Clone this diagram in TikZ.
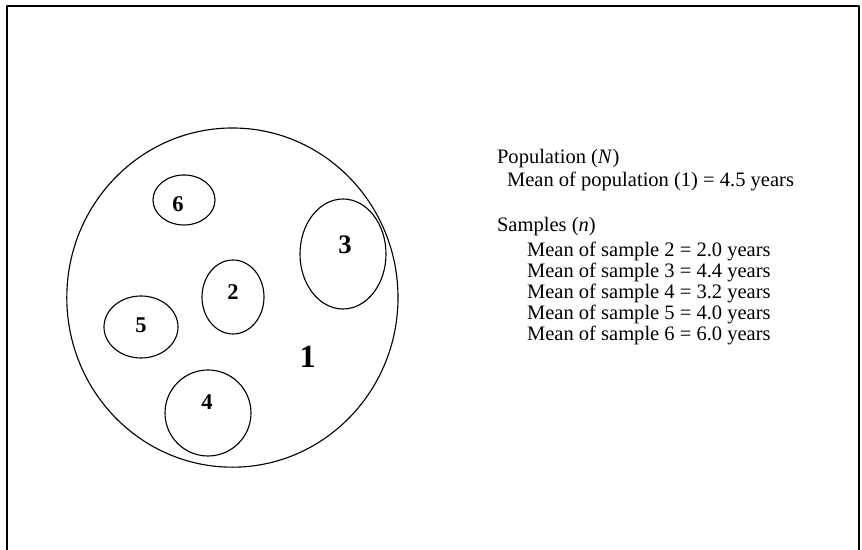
\documentclass[tikz,border=0pt]{standalone}
\usepackage{fontspec}
\setmainfont{Liberation Serif}
\usetikzlibrary{shapes.geometric}
\begin{document}
\begin{tikzpicture}[line cap=round,line join=round,
  oval/.style={draw,ellipse,line width=0.8pt,inner sep=0pt},
  num/.style={inner sep=0pt,font=\fontsize{16}{18}\selectfont\bfseries},
  txt/.style={anchor=base west,inner sep=0pt,font=\fontsize{14.6}{17}\selectfont}]
  \useasboundingbox (0,0) rectangle (21.55,13.75);
  \draw[line width=1pt] (0.175,0) -- (0.175,13.6) -- (21.475,13.6) -- (21.475,0);
  % population and samples
  \node[oval,minimum width=8.28cm,minimum height=8.48cm] (pop) at (5.81,6.31) {};
  \node[oval,minimum width=1.55cm,minimum height=1.25cm] (s6) at (4.60,8.75) {};
  \node[oval,minimum width=2.15cm,minimum height=2.75cm] (s3) at (8.575,7.40) {};
  \node[oval,minimum width=1.55cm,minimum height=1.85cm] (s2) at (5.825,6.325) {};
  \node[oval,minimum width=1.85cm,minimum height=1.55cm] (s5) at (3.525,5.575) {};
  \node[oval,minimum width=2.15cm,minimum height=2.15cm] (s4) at (5.20,3.425) {};
  \node[num] (n6) at (4.45,8.65) {6};
  \node[num,font=\fontsize{19}{21}\selectfont\bfseries] (n3) at (8.625,7.64) {3};
  \node[num] (n2) at (5.825,6.45) {2};
  \node[num] (n5) at (3.525,5.625) {5};
  \node[num] (n4) at (5.175,3.70) {4};
  \node[num,font=\fontsize{23}{25}\selectfont\bfseries] (n1) at (7.69,4.84) {1};
  % legend
  \node[txt] (popt) at (12.42,9.67) {Population (\textit{N})};
  \node[txt] (popm) at (12.67,9.08) {Mean of population (1) = 4.5 years};
  \node[txt] (samt) at (12.42,7.96) {Samples (\textit{n})};
  \node[txt] (m2) at (13.17,7.33) {Mean of sample 2 = 2.0 years};
  \node[txt] (m3) at (13.17,6.82) {Mean of sample 3 = 4.4 years};
  \node[txt] (m4) at (13.17,6.29) {Mean of sample 4 = 3.2 years};
  \node[txt] (m5) at (13.17,5.77) {Mean of sample 5 = 4.0 years};
  \node[txt] (m6) at (13.17,5.23) {Mean of sample 6 = 6.0 years};
\end{tikzpicture}
\end{document}
